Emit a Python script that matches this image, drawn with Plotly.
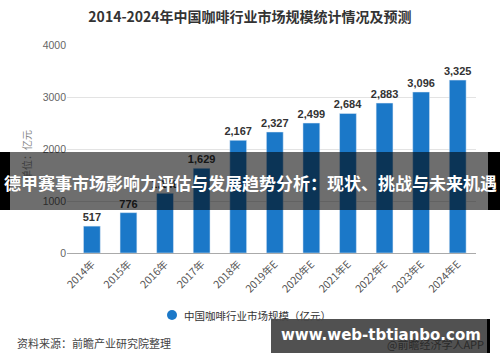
import plotly.graph_objects as go

categories = ["2014年", "2015年", "2016年", "2017年", "2018年", "2019年E", "2020年E",
              "2021年E", "2022年E", "2023年E", "2024年E"]
values = [517, 776, 1148, 1629, 2167, 2327, 2499, 2684, 2883, 3096, 3325]
series_name = "中国咖啡行业市场规模（亿元）"
y_ticks = [0, 1000, 2000, 3000, 4000]

W, H = 500, 362
L, R, T, B = 67, 24, 45, 109
PW, PH = W - L - R, H - T - B

def px(x):
    return (x - L) / PW

def py(y):
    return (H - B - y) / PH

CJK = "Noto Sans CJK SC, Liberation Sans, sans-serif"
LAT = "Liberation Sans, Arial, sans-serif"
BLUE = "#1b78c8"

fig = go.Figure()
fig.add_trace(go.Bar(
    x=categories, y=values, marker_color=BLUE, width=0.46,
    texttemplate="%{y:,}", textposition="outside", cliponaxis=False,
    constraintext="none",
    textfont=dict(size=11, color="#333", family=LAT, weight="bold"),
    showlegend=False, name=series_name,
))

def box(x0, x1, y0, y1, color):
    return dict(text=" ", x=px((x0 + x1) / 2), y=py((y0 + y1) / 2), xref="paper", yref="paper",
                xanchor="center", yanchor="middle",
                showarrow=False, width=x1 - x0, height=y1 - y0, bgcolor=color, borderpad=0,
                borderwidth=0)

def label(text, x, y, size, color, family=CJK, xanchor="center", **kw):
    return dict(text=text, x=px(x), y=py(y), xref="paper", yref="paper", xanchor=xanchor,
                yanchor="middle", showarrow=False,
                font=dict(size=size, color=color, family=family, **kw))

annotations = [
    dict(label("单位：亿元", 26, 155, 10, "#888"), textangle=-90),
    box(10, 488, 152, 210, "rgba(0,0,0,0.57)"),
    box(0, 10, 152, 210, "black"),
    box(488, 500, 152, 210, "black"),
    label("德甲赛事市场影响力评估与发展趋势分析：现状、挑战与未来机遇", 250, 182, 17, "white",
          weight="bold"),
    label(series_name, 182, 315, 10.5, "#333", xanchor="left"),
    label("资料来源：前瞻产业研究院整理", 15, 343, 11, "#444", xanchor="left"),
    box(271, 487, 319, 353, "rgba(72,72,72,0.95)"),
    box(487, 490, 319, 353, "black"),
    label("@前瞻经济学人APP", 486, 344, 11, "#2a2a2a", xanchor="right"),
    label("www.web-tbtianbo.com", 381, 335, 15, "white",
          family="DejaVu Sans, sans-serif", weight="bold"),
]

shapes = [
    dict(type="circle", xref="paper", yref="paper", x0=px(167), x1=px(177),
         y0=py(320), y1=py(310), fillcolor=BLUE, line_width=0),
]

fig.update_layout(
    width=W, height=H, margin=dict(l=L, r=R, t=T, b=B, autoexpand=False),
    paper_bgcolor="white", plot_bgcolor="white",
    title=dict(text="2014-2024年中国咖啡行业市场规模统计情况及预测", x=0.5, xref="container",
               y=1 - 17 / H, yref="container", xanchor="center", yanchor="middle",
               font=dict(size=14, color="#333", family=CJK, weight="bold")),
    xaxis=dict(range=[-0.68, 10.5], tickangle=-45, showline=True, linecolor="#aaa",
               showgrid=False, ticks="", tickfont=dict(size=10.5, color="#555", family=CJK)),
    yaxis=dict(range=[0, 4000], tickvals=y_ticks, showgrid=True, gridcolor="#e3e3e3",
               zeroline=False, ticks="", tickfont=dict(size=10.5, color="#666", family=LAT)),
    showlegend=False,
    annotations=annotations, shapes=shapes,
)

fig.write_html("out.html", config={"displayModeBar": False},
               post_script="document.body.style.margin='0';")
